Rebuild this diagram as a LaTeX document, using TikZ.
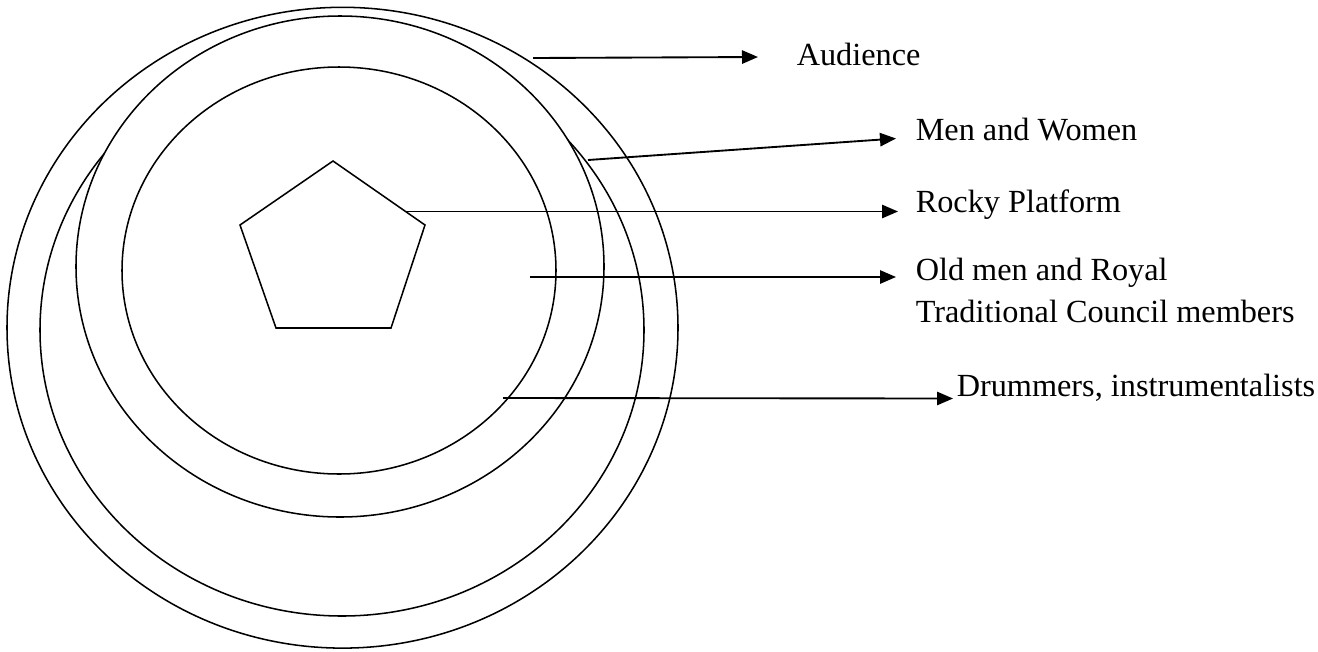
\documentclass[tikz,border=0pt]{standalone}
\usepackage{fontspec}
\setmainfont{Liberation Serif}
\usetikzlibrary{shapes.geometric,arrows.meta}
\begin{document}
\begin{tikzpicture}[x=0.75pt,y=-0.75pt,line width=1.15pt,
  ring/.style={ellipse,draw,fill=white,inner sep=0pt},
  lab/.style={anchor=base west,inner sep=0pt,font=\fontsize{24.2}{31.3}\selectfont,align=left},
  pointer/.style={line width=1.4pt,-{Triangle[length=12pt,width=10pt]}}]
\useasboundingbox (0,0) rectangle (1318,651);
% rings (back to front)
\node[ring,minimum width=503.25pt,minimum height=480.6pt] (audring) at (342.5,327.7) {};
\node[ring,minimum width=453pt,minimum height=429pt] (drumring) at (342,330) {};
\node[ring,minimum width=396pt,minimum height=375.75pt] (menring) at (340,266.5) {};
\node[ring,minimum width=325.5pt,minimum height=305.25pt] (oldring) at (339,270.5) {};
% rocky platform
\draw (333,161) -- (425,225) -- (391,328) -- (276,328) -- (240,225) -- cycle;
% labels
\node[lab] (audience) at (796,65) {Audience};
\node[lab] (menwomen) at (915,140) {Men and Women};
\node[lab] (rocky) at (915,212) {Rocky Platform};
\node[lab] (oldmen) at (915,322.7) {Old men and Royal\\Traditional Council members};
\node[lab] (drummers) at (956,396) {Drummers, instrumentalists};
% pointer ends
\coordinate (aS) at (533,58);   \coordinate (aT) at (758,57);
\coordinate (mS) at (588,160);  \coordinate (mT) at (896,138.5);
\coordinate (rS) at (405,211.5);\coordinate (rT) at (898,211.5);
\coordinate (oS) at (530,277);  \coordinate (oT) at (896,277);
\coordinate (dS) at (503,398);  \coordinate (dT) at (953,398.5);
\draw[pointer] (aS) -- (aT);
\draw[pointer] (mS) -- (mT);
\draw[pointer] (rS) -- (rT);
\draw[pointer] (oS) -- (oT);
\draw[pointer] (dS) -- (dT);
\end{tikzpicture}
\end{document}
